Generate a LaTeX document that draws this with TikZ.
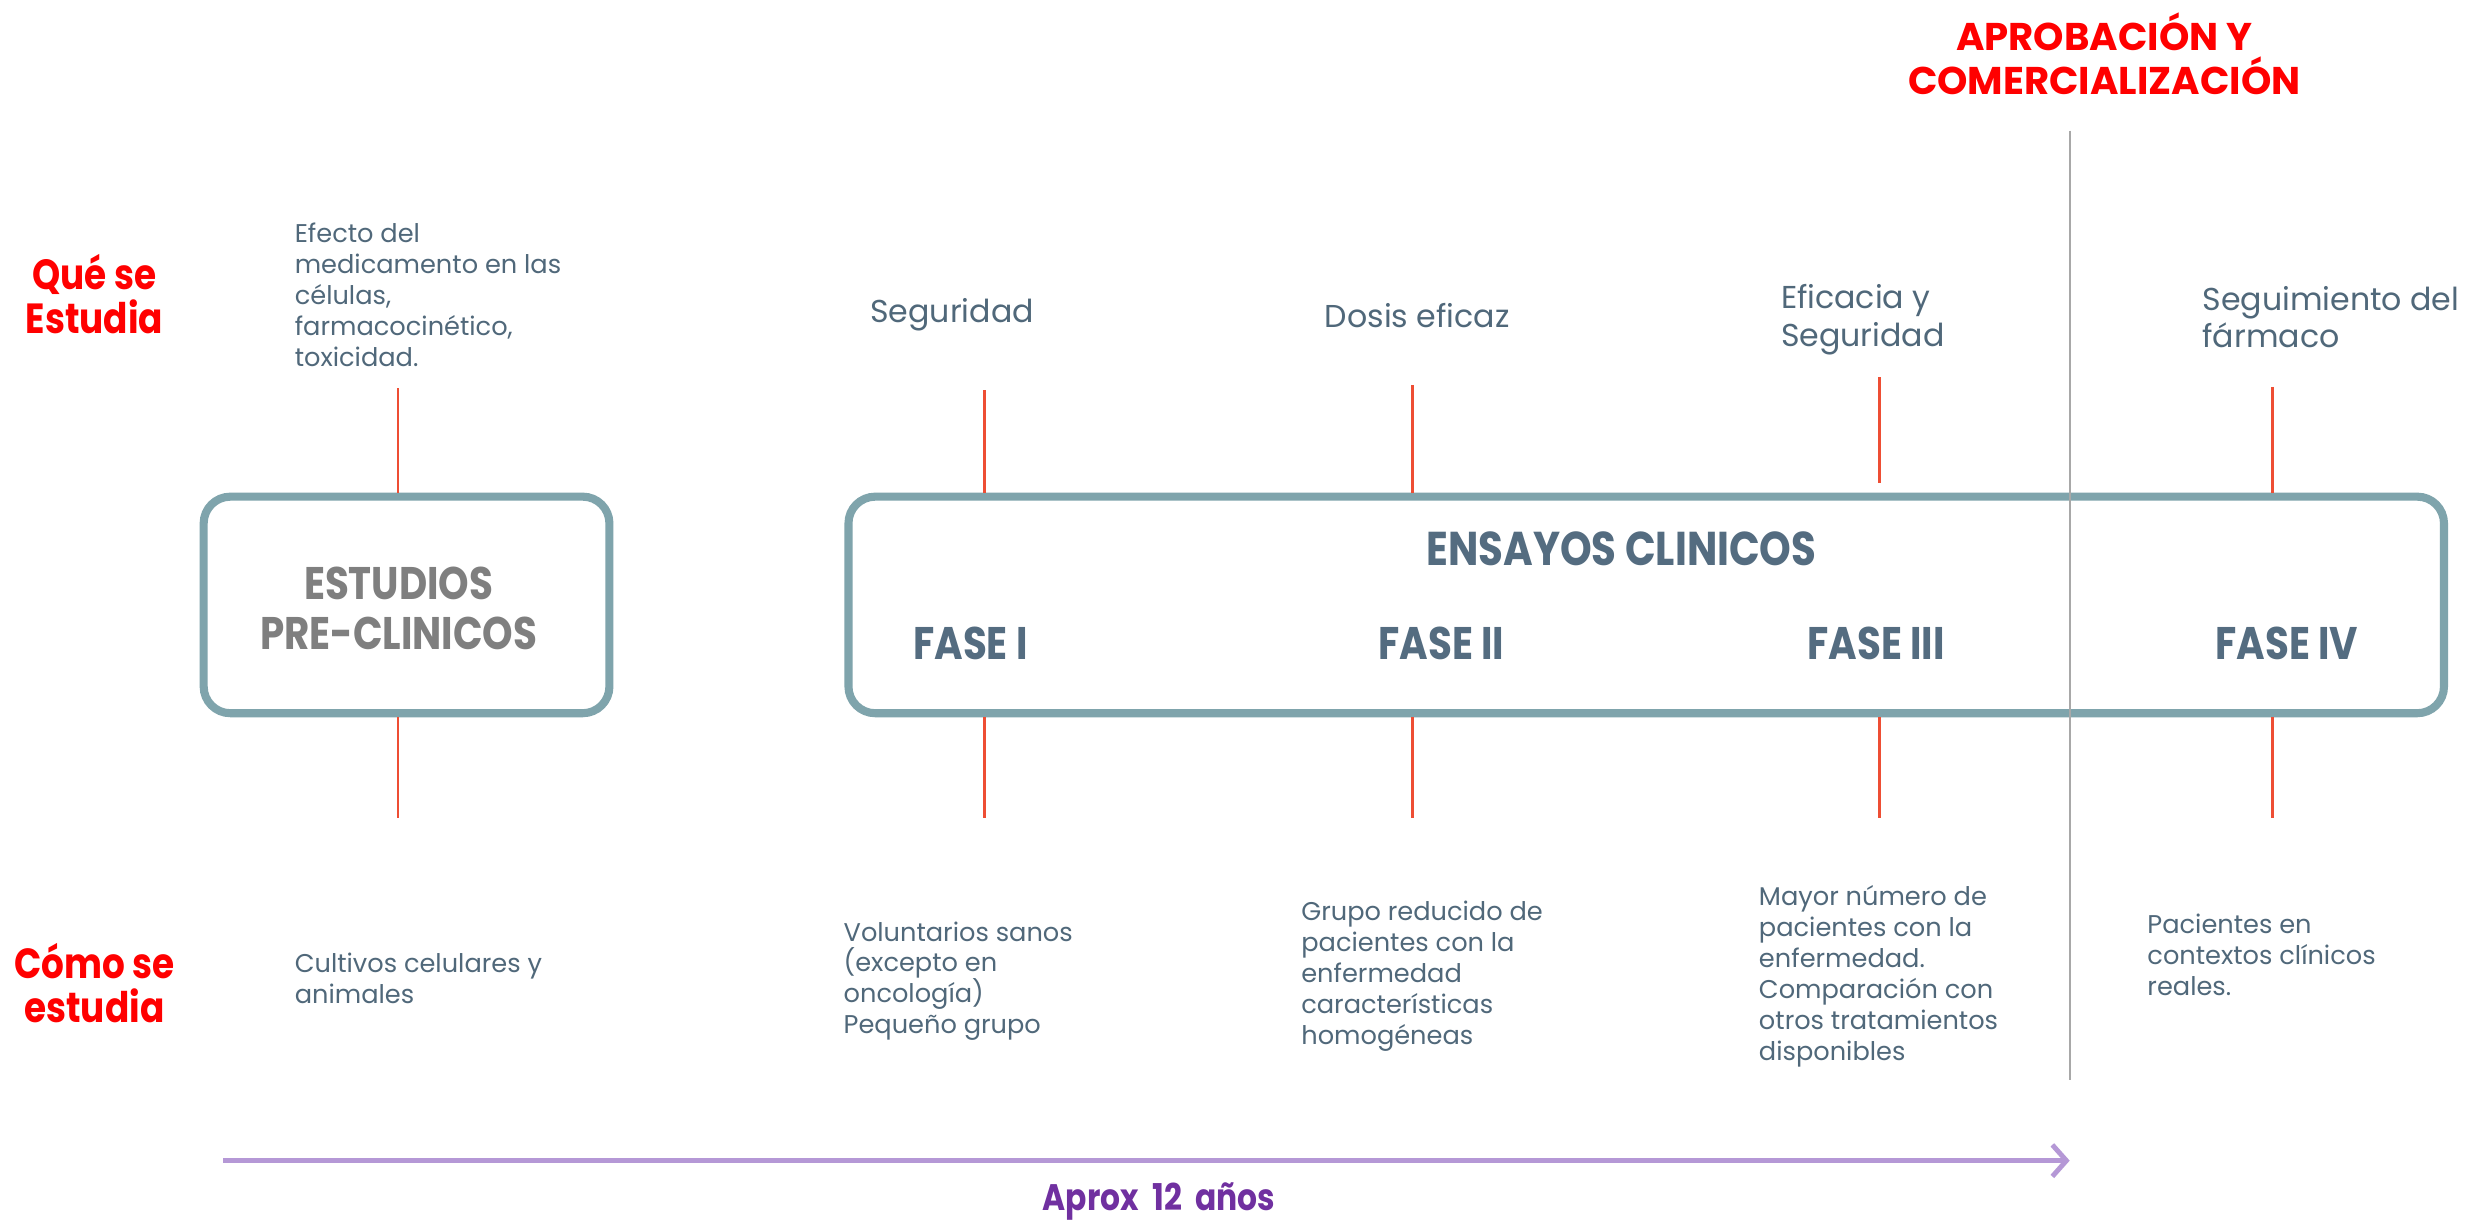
\documentclass[tikz,border=0pt]{standalone}
\usepackage{fontspec}
\setmainfont{Poppins}
\newfontfamily\bcond[FakeStretch=0.85]{Poppins}
\usetikzlibrary{fit,arrows.meta}
\definecolor{boxc}{RGB}{127,164,172}
\definecolor{slate}{RGB}{80,104,122}
\definecolor{fasec}{RGB}{84,108,128}
\definecolor{grayt}{RGB}{127,127,127}
\definecolor{tickc}{RGB}{238,78,52}
\definecolor{arrowc}{RGB}{181,152,214}
\definecolor{purp}{RGB}{112,48,160}
\definecolor{vlinec}{RGB}{168,168,168}
\begin{document}
\begin{tikzpicture}[x=0.015727cm,y=-0.015727cm,
  stagebox/.style={draw=boxc,line width=2.3pt,rounded corners=7.6pt,inner sep=0pt},
  redlabel/.style={text=red,font=\bcond\bfseries\fontsize{12}{12.5}\selectfont,align=center,inner sep=0pt},
  title/.style={font=\bcond\bfseries\fontsize{13}{14.3}\selectfont,align=center,inner sep=0pt},
  desc/.style={text=slate,align=left,anchor=north west,inner sep=0pt,font=\fontsize{9}{10.7}\selectfont},
  descs/.style={desc,font=\fontsize{7.3}{8.8}\selectfont},
  tick/.style={draw=tickc,line width=0.7pt}
]
\fill[white] (0,0) rectangle (1568,778);
\useasboundingbox (0,0) rectangle (1568,778);

% row labels
\node[redlabel] (que) at (60,187) {Qué se\\Estudia};
\node[redlabel] (como) at (60,625) {Cómo se\\estudia};
\node[redlabel,font=\bfseries\fontsize{11}{12.5}\selectfont] (apr) at (1338,34) {APROBACIÓN Y\\COMERCIALIZACIÓN};

% boxes
\node[stagebox,fit={(129.5,315.8)(387.5,453.5)}] (pre) {};
\node[stagebox,fit={(539.5,315.8)(1554,453.5)}] (clin) {};

% titles
\node[title,text=grayt] (pret) at (253.5,387) {ESTUDIOS\\PRE-CLINICOS};
\node[title,text=fasec,font=\bcond\bfseries\fontsize{13.5}{15}\selectfont] (ens) at (1031,349) {ENSAYOS CLINICOS};
\node[title,text=fasec] (f1) at (617,409) {FASE I};
\node[title,text=fasec] (f2) at (916.5,409) {FASE II};
\node[title,text=fasec] (f3) at (1193,409) {FASE III};
\node[title,text=fasec] (f4) at (1454,409) {FASE IV};

% gray separator
\coordinate (vt) at (1316,83);
\coordinate (vb) at (1316,687);
\draw[vlinec,line width=0.6pt] (vt) -- (vb);

% ticks
\coordinate (t0) at (253,247);
\coordinate (t1) at (626,248);
\coordinate (t2) at (898,245);
\coordinate (t3) at (1195,240);
\coordinate (t3e) at (1195,307);
\coordinate (t4) at (1445,246);
\coordinate (b0) at (253,520);
\coordinate (b1) at (626,520);
\coordinate (b2) at (898,520);
\coordinate (b3) at (1195,520);
\coordinate (b4) at (1445,520);
\draw[tick] (t0) -- (t0 |- pre.north);
\draw[tick] (t1) -- (t1 |- clin.north);
\draw[tick] (t2) -- (t2 |- clin.north);
\draw[tick] (t3) -- (t3e);
\draw[tick] (t4) -- (t4 |- clin.north);
\draw[tick] (pre.south -| b0) -- (b0);
\draw[tick] (clin.south -| b1) -- (b1);
\draw[tick] (clin.south -| b2) -- (b2);
\draw[tick] (clin.south -| b3) -- (b3);
\draw[tick] (clin.south -| b4) -- (b4);

% what is studied
\node[descs] (d0) at (187,141.5) {Efecto del\\medicamento en las\\células,\\farmacocinético,\\toxicidad.};
\node[desc] (d1) at (553,189.6) {Seguridad};
\node[desc] (d2) at (842,192.6) {Dosis eficaz};
\node[desc] (d3) at (1132,180.6) {Eficacia y\\Seguridad};
\node[desc] (d4) at (1400,181.6) {Seguimiento del\\fármaco};

% how it is studied
\node[descs] (h0) at (187,605.5) {Cultivos celulares y\\animales};
\node[descs] (h1) at (536,585.5) {Voluntarios sanos\\(excepto en\\oncología)\\Pequeño grupo};
\node[descs] (h2) at (827,572.5) {Grupo reducido de\\pacientes con la\\enfermedad\\características\\homogéneas};
\node[descs] (h3) at (1118,562.5) {Mayor número de\\pacientes con la\\enfermedad.\\Comparación con\\otros tratamientos\\disponibles};
\node[descs] (h4) at (1365,580.5) {Pacientes en\\contextos clínicos\\reales.};

% time arrow
\coordinate (as) at (142,738);
\coordinate (ae) at (1316,738);
\draw[arrowc,line width=1.4pt,-{Straight Barb[length=4pt,width=9pt]}] (as) -- (ae);
\node[text=purp,font=\bcond\bfseries\fontsize{10.5}{12}\selectfont,inner sep=0pt] (aprox) at (737,764) {Aprox\ \ 12\ \ años};
\end{tikzpicture}
\end{document}
